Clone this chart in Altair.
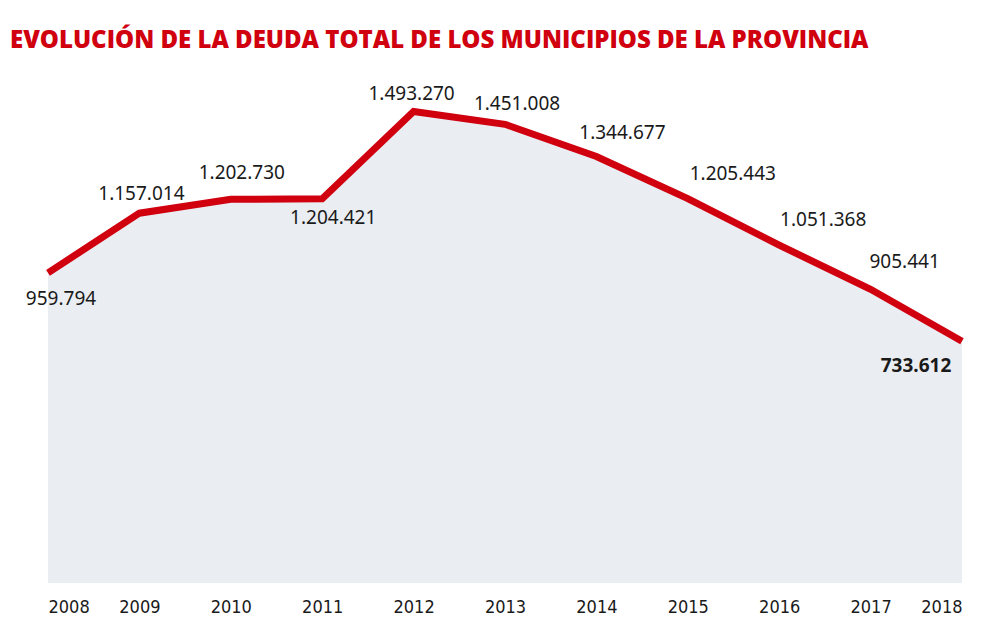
import altair as alt
import pandas as pd

years = [2008, 2009, 2010, 2011, 2012, 2013, 2014, 2015, 2016, 2017, 2018]
deuda = [959794, 1157014, 1202730, 1204421, 1493270, 1451008, 1344677,
         1205443, 1051368, 905441, 733612]

df = pd.DataFrame({"year": years, "deuda": deuda})
df["label"] = [f"{v:,}".replace(",", ".") for v in deuda]

RED = "#d0000f"
AREA = "#eaedf2"
YMIN, YMAX = -66200, 1663700

xs = alt.X("year:Q", scale=alt.Scale(domain=[2008, 2018], nice=False, zero=False),
           axis=alt.Axis(values=years, format="d", title=None, grid=False, domain=False,
                         ticks=False, labelPadding=15, labelFontSize=18,
                         labelFont="DejaVu Sans Condensed, Liberation Sans Narrow, sans-serif",
                         labelColor="#1a1a1a"))
ys = alt.Y("deuda:Q", scale=alt.Scale(domain=[YMIN, YMAX], nice=False, zero=False),
           axis=None)

base = alt.Chart(df)
area = base.mark_area(color=AREA).encode(x=xs, y=ys, y2=alt.Y2(datum=YMIN))
line = base.mark_line(color=RED, strokeWidth=7, strokeJoin="miter", strokeCap="butt").encode(x=xs, y=ys)

# label placement (dx, dy) per year
offsets = {
    2008: (13, 26), 2009: (2, -19), 2010: (11, -26), 2011: (11, 19),
    2012: (-2, -18), 2013: (12, -20), 2014: (26, -23), 2015: (45, -25),
    2016: (44, -25), 2017: (34, -27), 2018: (-46, 25),
}
labels = []
for yr in years:
    dx, dy = offsets[yr]
    labels.append(
        base.transform_filter(alt.datum.year == yr).mark_text(
            dx=dx, dy=dy, fontSize=19, font="Noto Sans", color="#1a1a1a",
            fontWeight="bold" if yr == 2018 else "normal", baseline="middle", align="center"
        ).encode(x=xs, y=ys, text="label:N")
    )

chart = alt.layer(area, line, *labels).properties(
    width=914, height=523,
    autosize="none",
    padding={"left": 40, "top": 52, "right": 30, "bottom": 42},
    title=alt.TitleParams(
        "EVOLUCIÓN DE LA DEUDA TOTAL DE LOS MUNICIPIOS DE LA PROVINCIA",
        anchor="start", frame="group", dx=-38, offset=7,
        font="Open Sans", fontSize=24, fontWeight=800, color=RED,
    ),
).configure_view(stroke=None)

chart.save("out.html", embed_options={"renderer": "svg", "actions": False})
